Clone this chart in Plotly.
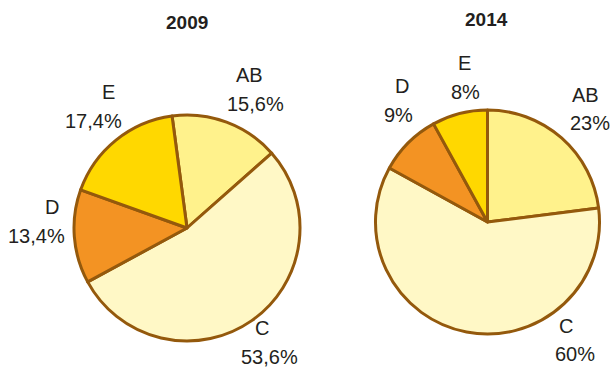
import plotly.graph_objects as go

W, H = 611, 370

categories = ["AB", "C", "D", "E"]
values_2009 = [15.6, 53.6, 13.4, 17.4]
values_2014 = [23, 60, 9, 8]
years = ["2009", "2014"]

colors = ["#FFF28C", "#FFF8C6", "#F39323", "#FFD800"]
edge = "#94590C"
txt = "#231F20"
FONT = "Liberation Sans, Arial, sans-serif"

def fmt(v):
    s = f"{v:.1f}".replace(".", ",")
    if s.endswith(",0"):
        s = s[:-2]
    return s + "%"

fig = go.Figure()

# pie domains in pixels (x0, x1, ytop, ybottom)
doms = [(74, 300, 115, 341), (375, 600, 110, 334)]
for vals, (x0, x1, yt, yb), rot in zip([values_2009, values_2014], doms, [-7.6, 0]):
    fig.add_trace(go.Pie(
        labels=categories, values=vals, sort=False, direction="clockwise",
        rotation=rot, textinfo="none", hoverinfo="label+percent",
        marker=dict(colors=colors, line=dict(color=edge, width=3)),
        domain=dict(x=[x0 / W, x1 / W], y=[1 - yb / H, 1 - yt / H]),
        showlegend=False,
    ))

# label placement (pixel centres of name line and value line)
label_pos = [
    {"AB": ((249, 75), (255, 104)), "C": ((262, 328), (269, 357)),
     "D": ((52, 207), (36, 236)), "E": ((108, 92), (93, 121))},
    {"AB": ((585, 95), (590, 123)), "C": ((566, 326), (575, 354)),
     "D": ((402, 86), (398, 115)), "E": ((464, 63), (465, 92))},
]

ann = []
for vals, pos in zip([values_2009, values_2014], label_pos):
    for cat, v in zip(categories, vals):
        (nx, ny), (vx, vy) = pos[cat]
        ann.append(dict(x=nx / W, y=1 - ny / H, text=cat, showarrow=False,
                        xref="paper", yref="paper", xanchor="center", yanchor="middle",
                        font=dict(size=20, color=txt, family=FONT)))
        ann.append(dict(x=vx / W, y=1 - vy / H, text=fmt(v), showarrow=False,
                        xref="paper", yref="paper", xanchor="center", yanchor="middle",
                        font=dict(size=20, color=txt, family=FONT)))

for yr, (cx, cy) in zip(years, [(187, 22), (487, 19)]):
    ann.append(dict(x=cx / W, y=1 - cy / H, text=f"<b>{yr}</b>", showarrow=False,
                    xref="paper", yref="paper", xanchor="center", yanchor="middle",
                    font=dict(size=19, color=txt, family=FONT)))

fig.update_layout(
    width=W, height=H, margin=dict(l=0, r=0, t=0, b=0),
    paper_bgcolor="white", plot_bgcolor="white",
    annotations=ann, font=dict(family=FONT),
)

fig.write_html("out.html")
